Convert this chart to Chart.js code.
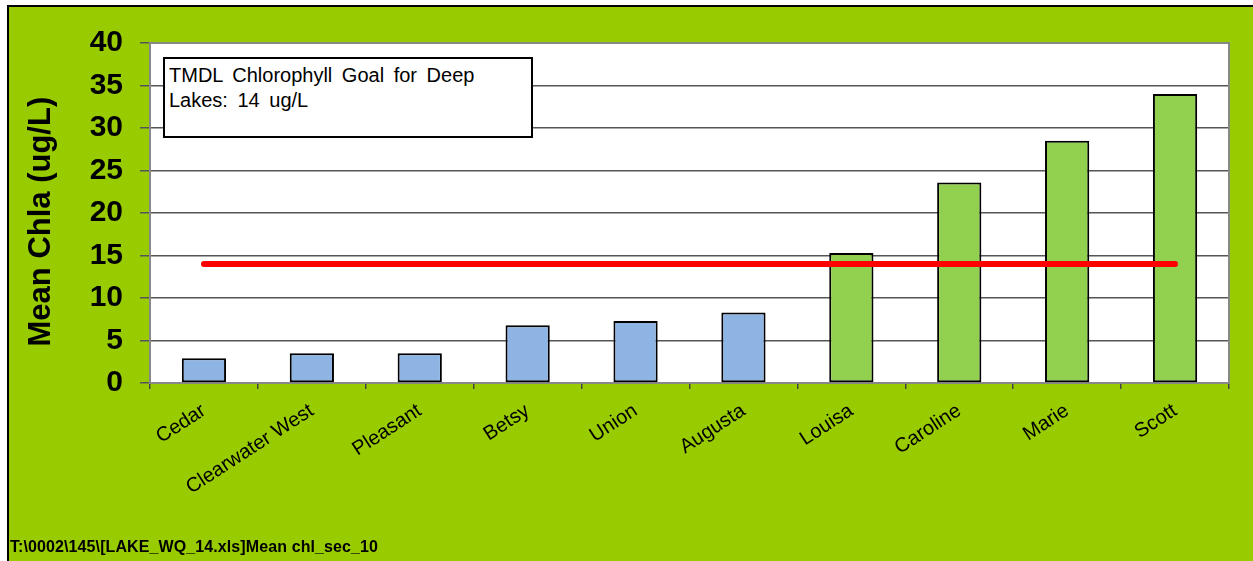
<!DOCTYPE html>
<html>
<head>
<meta charset="utf-8">
<script src="https://cdn.jsdelivr.net/npm/chart.js@4/dist/chart.umd.min.js"></script>
<style>
  html, body { margin: 0; padding: 0; background: #ffffff; }
  #wrap { position: relative; width: 1253px; height: 561px; overflow: hidden; }
  canvas { position: absolute; left: 0; top: 0; }
  #note {
    position: absolute; left: 163px; top: 57px; width: 370px; height: 81px;
    border: 2px solid #000; background: #fff;
    font-family: Arial, "Liberation Sans", sans-serif; font-size: 20px; line-height: 25px;
    color: #000; padding: 4px 0 0 4px; box-sizing: border-box; word-spacing: 4px;
  }
  #foot {
    position: absolute; left: 10px; top: 538px;
    font-family: Arial, "Liberation Sans", sans-serif; font-size: 16px; font-weight: bold; color: #000;
    white-space: nowrap; letter-spacing: 0.1px;
  }
</style>
</head>
<body>
<div id="wrap">
  <canvas id="c" width="1253" height="561"></canvas>
  <div id="note">TMDL Chlorophyll Goal for Deep<br>Lakes: 14 ug/L</div>
  <div id="foot">T:\0002\145\[LAKE_WQ_14.xls]Mean chl_sec_10</div>
</div>
<script>
const lakes = ["Cedar", "Clearwater West", "Pleasant", "Betsy", "Union", "Augusta", "Louisa", "Caroline", "Marie", "Scott"];
const meanChla = [2.9, 3.5, 3.5, 6.8, 7.3, 8.3, 15.3, 23.6, 28.5, 34.0];
const goalLine = [14, 14, 14, 14, 14, 14, 14, 14, 14, 14];
const goalValue = 14;
const yTicks = [0, 5, 10, 15, 20, 25, 30, 35, 40];

const BLUE = "#8EB4E3", GREEN = "#92D050";
const barColors = meanChla.map(v => v > goalValue ? GREEN : BLUE);

const bgPlugin = {
  id: "bg",
  beforeDraw(chart) {
    const ctx = chart.ctx, a = chart.chartArea;
    ctx.save();
    ctx.fillStyle = "#ffffff";
    ctx.fillRect(0, 0, chart.width, chart.height);
    ctx.fillStyle = "#99CC00";
    ctx.fillRect(7, 5, chart.width - 7, chart.height - 5);
    ctx.strokeStyle = "#000";
    ctx.lineWidth = 2;
    ctx.beginPath();
    ctx.moveTo(8, chart.height); ctx.lineTo(8, 6); ctx.lineTo(chart.width, 6);
    ctx.stroke();
    ctx.fillStyle = "#ffffff";
    ctx.fillRect(a.left, a.top, a.right - a.left, a.bottom - a.top);
    ctx.restore();
  },
  beforeDatasetsDraw(chart) {
    const ctx = chart.ctx, a = chart.chartArea;
    ctx.save();
    ctx.strokeStyle = "#888";
    ctx.lineWidth = 2;
    ctx.strokeRect(a.left, a.top, a.right - a.left, a.bottom - a.top);
    ctx.restore();
  }
};

new Chart(document.getElementById("c"), {
  data: {
    labels: lakes,
    datasets: [
      {
        type: "line", data: goalLine, borderColor: "#FF0000", borderWidth: 6,
        borderCapStyle: "round", pointRadius: 0, fill: false, order: 0
      },
      {
        type: "bar", data: meanChla, backgroundColor: barColors, borderColor: "#000",
        borderWidth: 2, borderSkipped: false, barPercentage: 0.41, categoryPercentage: 1, order: 1
      }
    ]
  },
  options: {
    responsive: false,
    animation: false,
    layout: { padding: { top: 43, right: 24, bottom: 0, left: 0 } },
    plugins: { legend: { display: false }, tooltip: { enabled: false } },
    scales: {
      x: {
        grid: { offset: true, drawOnChartArea: false, tickLength: 6, color: "#444", lineWidth: 1.5 },
        border: { color: "#888", width: 2 },
        ticks: {
          font: { family: "Arial, 'Liberation Sans'", size: 20 }, color: "#000",
          minRotation: 33, maxRotation: 33, padding: 10, autoSkip: false
        },
        afterFit(s) { s.height = 178; }
      },
      y: {
        min: 0, max: 40,
        afterBuildTicks(s) { s.ticks = yTicks.map(v => ({ value: v })); },
        grid: { color: "#555", lineWidth: 1.5, tickLength: 10, tickColor: "#555" },
        border: { color: "#888", width: 2 },
        ticks: { font: { family: "Arial, 'Liberation Sans'", size: 30, weight: "bold" }, color: "#000", padding: 17 },
        title: {
          display: true, text: "Mean Chla (ug/L)  ", color: "#000",
          font: { family: "Arial, 'Liberation Sans'", size: 31, weight: "bold" },
          padding: { top: 23, bottom: 0 }
        },
        afterFit(s) { s.width = 150; }
      }
    }
  },
  plugins: [bgPlugin]
});
</script>
</body>
</html>
